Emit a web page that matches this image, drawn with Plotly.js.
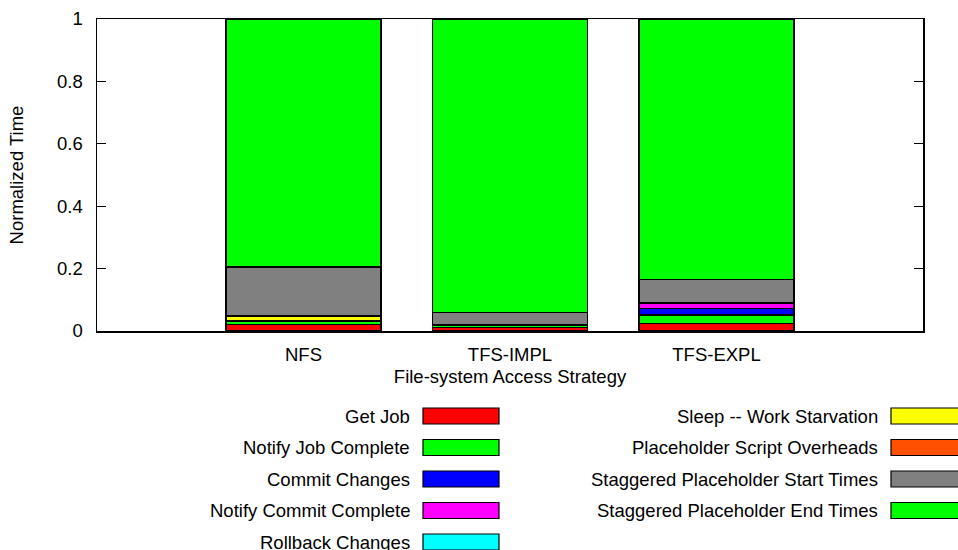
<!DOCTYPE html>
<html>
<head>
<meta charset="utf-8">
<script src="https://cdn.plot.ly/plotly-3.0.1.min.js"></script>
<style>
  html, body { margin: 0; padding: 0; background: #fff; }
  #chart { width: 958px; height: 550px; }
</style>
</head>
<body>
<div id="chart"></div>
<script>
// Access strategies compared
const categories = ['NFS', 'TFS-IMPL', 'TFS-EXPL'];

// Normalized time spent in each phase (stack order bottom to top)
const getJob               = [0.022, 0.011, 0.025];
const notifyJobComplete    = [0.010, 0.007, 0.026];
const commitChanges        = [0.000, 0.000, 0.021];
const notifyCommitComplete = [0.000, 0.000, 0.018];
const rollbackChanges      = [0.000, 0.000, 0.000];
const sleepStarvation      = [0.014, 0.002, 0.000];
const scriptOverheads      = [0.002, 0.002, 0.002];
const staggeredStart       = [0.157, 0.037, 0.072];
const staggeredEnd         = [0.795, 0.941, 0.836];

const seriesNames = [
  'Get Job', 'Notify Job Complete', 'Commit Changes', 'Notify Commit Complete',
  'Rollback Changes', 'Sleep -- Work Starvation', 'Placeholder Script Overheads',
  'Staggered Placeholder Start Times', 'Staggered Placeholder End Times'
];
const seriesValues = [
  getJob, notifyJobComplete, commitChanges, notifyCommitComplete,
  rollbackChanges, sleepStarvation, scriptOverheads, staggeredStart, staggeredEnd
];
const seriesColors = [
  '#ff0000', '#00ff00', '#0000ff', '#ff00ff',
  '#00ffff', '#ffff00', '#ff5000', '#808080', '#00ff00'
];

const FONT = 'Liberation Sans, Arial, Helvetica, sans-serif';
const FS = 18.5;

const traces = seriesNames.map((name, i) => ({
  type: 'bar',
  name: name,
  x: categories,
  y: seriesValues[i],
  marker: { color: seriesColors[i], line: { color: '#000', width: 1.2 } },
  showlegend: false,
  hoverinfo: 'name+y'
}));

// Plot-area geometry in pixels, used to place the key below the axes
const W = 958, H = 550;
const M = { l: 97, r: 35, t: 19, b: 219 };
const pw = W - M.l - M.r, ph = H - M.t - M.b;
const px = x => (x - M.l) / pw;
const py = y => (H - M.b - y) / ph;

// Two-column key: label right-aligned, swatch to its right
const keyCols = [
  { textRight: 411, swLeft: 423, swRight: 499, items: [0, 1, 2, 3, 4] },
  { textRight: 879, swLeft: 891, swRight: 967, items: [5, 6, 7, 8] }
];
const rowY0 = 416, rowStep = 31.5, swH = 16;

const shapes = [];
const annotations = [];
keyCols.forEach(col => {
  col.items.forEach((idx, r) => {
    const cy = rowY0 + r * rowStep;
    shapes.push({
      type: 'rect', xref: 'paper', yref: 'paper',
      x0: px(col.swLeft), x1: px(col.swRight),
      y0: py(cy + swH / 2), y1: py(cy - swH / 2),
      fillcolor: seriesColors[idx], line: { color: '#000', width: 1.2 }
    });
    annotations.push({
      xref: 'paper', yref: 'paper',
      x: px(col.textRight), y: py(cy),
      xanchor: 'right', yanchor: 'middle',
      text: seriesNames[idx], showarrow: false,
      borderpad: 0,
      font: { family: FONT, size: FS, color: '#000' }
    });
  });
});

const layout = {
  width: W, height: H,
  margin: M,
  barmode: 'stack',
  bargap: 0.25,
  paper_bgcolor: '#fff',
  plot_bgcolor: '#fff',
  font: { family: FONT, size: FS, color: '#000' },
  xaxis: {
    type: 'category',
    range: [-1, 3],
    showgrid: false, zeroline: false,
    showline: true, linecolor: '#000', linewidth: 1.5, mirror: true,
    ticks: '',
    ticklabelstandoff: 6,
    tickfont: { family: FONT, size: FS, color: '#000' },
    title: { text: 'File-system Access Strategy', font: { family: FONT, size: FS, color: '#000' }, standoff: 6 }
  },
  yaxis: {
    range: [0, 1],
    tickvals: [0, 0.2, 0.4, 0.6, 0.8, 1],
    ticktext: ['0', '0.2', '0.4', '0.6', '0.8', '1'],
    showgrid: false, zeroline: false,
    showline: true, linecolor: '#000', linewidth: 1.5, mirror: 'ticks',
    ticks: 'inside', ticklen: 9, tickwidth: 1.2, tickcolor: '#000',
    ticklabelstandoff: 9,
    tickfont: { family: FONT, size: FS, color: '#000' },
    title: { text: 'Normalized Time', font: { family: FONT, size: FS, color: '#000' }, standoff: 28 }
  },
  shapes: shapes,
  annotations: annotations
};

Plotly.newPlot('chart', traces, layout, { displayModeBar: false, staticPlot: true });
</script>
</body>
</html>
